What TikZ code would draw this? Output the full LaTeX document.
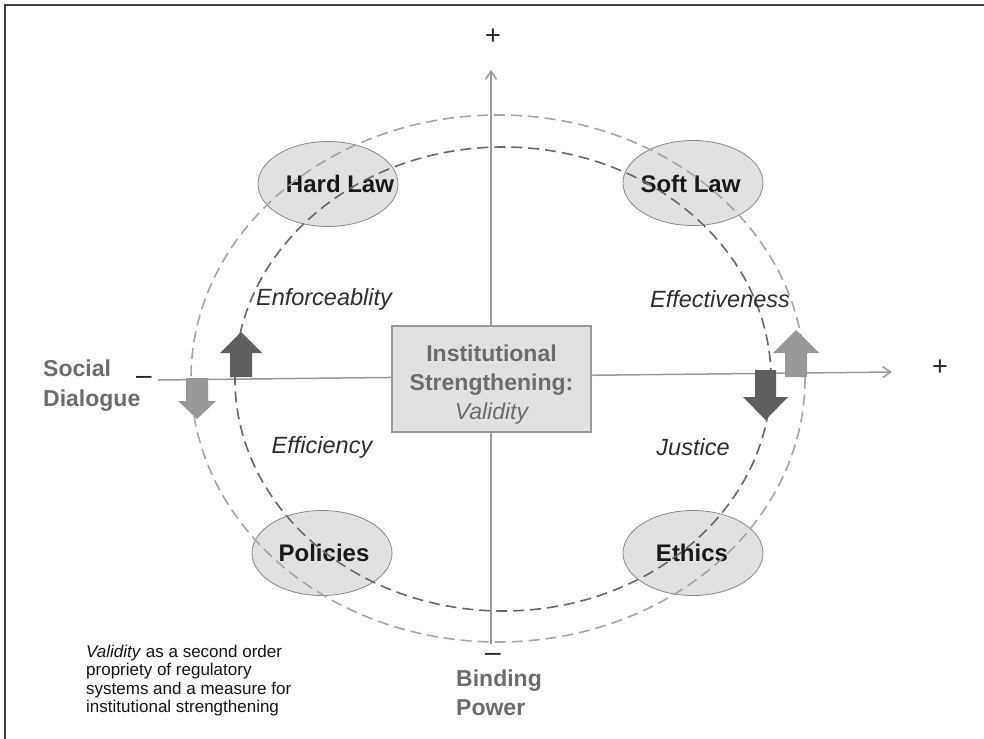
\documentclass[tikz,border=0pt]{standalone}
\usepackage{fontspec}
\setmainfont{Liberation Sans}
\usetikzlibrary{arrows.meta,shapes.geometric}
\definecolor{fillg}{HTML}{E1E1E1}
\definecolor{edgeg}{HTML}{8A8A8A}
\definecolor{darkarr}{HTML}{5F5F5F}
\definecolor{lightarr}{HTML}{999999}
\definecolor{axisg}{HTML}{9A9A9A}
\definecolor{labelg}{HTML}{6C6C6C}
\definecolor{outerc}{HTML}{A6A6A6}
\definecolor{innerc}{HTML}{686868}
\definecolor{italg}{HTML}{2E2E2E}
\tikzset{
  axisline/.style={draw=axisg, line width=1.5pt, -{Straight Barb[length=8pt,width=11pt]}},
  lawell/.style={ellipse, draw=edgeg, line width=0.8pt, fill=fillg, minimum width=140pt, minimum height=85pt, inner sep=0pt},
  lawtext/.style={inner sep=0pt, text=black!90, font=\bfseries\fontsize{24}{28}\selectfont},
  ringdash/.style={line width=1.6pt, dash pattern=on 11pt off 6pt},
  axislabel/.style={anchor=base west, text=labelg, font=\bfseries\fontsize{23}{29}\selectfont, inner sep=0pt},
  quality/.style={text=italg, font=\itshape\fontsize{23.5}{28}\selectfont, inner sep=0pt},
  plussign/.style={text=black!85, font=\fontsize{27}{29}\selectfont, inner sep=0pt},
  minussign/.style={text=black!85, font=\fontsize{28}{30}\selectfont, inner sep=0pt},
  noteline/.style={anchor=base west, text=black!92, font=\fontsize{17}{19}\selectfont, inner sep=0pt},
  centerbox/.style={draw=lightarr, line width=2.2pt, fill=fillg, minimum width=199pt, minimum height=106pt, inner sep=0pt},
  boxtext/.style={align=center, text=labelg, font=\bfseries\fontsize{23}{29}\selectfont, inner sep=0pt}
}
\begin{document}
\begin{tikzpicture}[x=1pt,y=-1pt]
\useasboundingbox (0,0) rectangle (984,738);
\draw[line width=1.2pt, black!75] (5,5) rectangle (995,750);

% axes
\coordinate (hL) at (158,380);
\coordinate (hR) at (892,372);
\coordinate (vB) at (491,644);
\coordinate (vT) at (491,70);
\draw[axisline] (hL) -- (hR);
\draw[axisline] (vB) -- (vT);

% ellipses
\node[lawell] (hard) at (328,184) {};
\node[lawell] (soft) at (693,183) {};
\node[lawell] (pol) at (322,553) {};
\node[lawell] (eth) at (693,553) {};
\node[lawtext] (hardt) at (340,184) {Hard Law};
\node[lawtext] (softt) at (690.5,184) {Soft Law};
\node[lawtext] (polt) at (324,553) {Policies};
\node[lawtext] (etht) at (692,553) {Ethics};

% dashed rings
\draw[ringdash, outerc] (498,378.5) ellipse [x radius=307pt, y radius=263.5pt];
\draw[ringdash, innerc] (503,379) ellipse [x radius=268pt, y radius=232pt];

% block arrows
\fill[darkarr] (230,377) -- (252,377) -- (252,353) -- (262,353) -- (241,332) -- (220,353) -- (230,353) -- cycle;
\fill[lightarr] (186,378) -- (208,378) -- (208,401) -- (216,401) -- (197,419) -- (178,401) -- (186,401) -- cycle;
\fill[darkarr] (755,370) -- (776,370) -- (776,397) -- (788,397) -- (765.5,420) -- (743,397) -- (755,397) -- cycle;
\fill[lightarr] (785,377) -- (807,377) -- (807,353) -- (819,353) -- (796,330) -- (773,353) -- (785,353) -- cycle;

% central box
\node[centerbox] (box) at (491.5,379) {};
\node[boxtext] (boxt) at (491.5,385) {Institutional\\Strengthening:\\\mdseries\itshape Validity};

% quality labels
\node[quality] (enf) at (324,299) {Enforceablity};
\node[quality] (eff) at (720,299) {Effectiveness};
\node[quality] (effi) at (322,447) {Efficiency};
\node[quality] (jus) at (693,447) {Justice};

% signs
\node[plussign] (ptop) at (493,37) {+};
\node[plussign] (pright) at (940,368) {+};
\node[minussign] (mleft) at (144,380) {–};
\node[minussign] (mbot) at (493,657) {–};

% axis names
\node[axislabel] (sd1) at (43,376) {Social};
\node[axislabel] (sd2) at (43,406) {Dialogue};
\node[axislabel] (bp1) at (456,686) {Binding};
\node[axislabel] (bp2) at (456,715) {Power};

% note
\node[noteline] (n1) at (86,657) {\textit{Validity} as a second order};
\node[noteline] (n2) at (86,675.5) {propriety of regulatory};
\node[noteline] (n3) at (86,694) {systems and a measure for};
\node[noteline] (n4) at (86,712.5) {institutional strengthening};
\end{tikzpicture}
\end{document}
